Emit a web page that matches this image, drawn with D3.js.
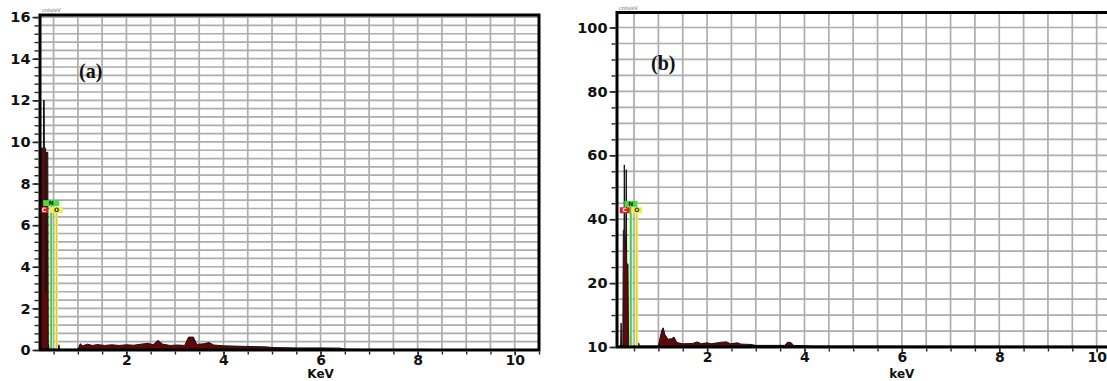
<!DOCTYPE html>
<html><head><meta charset="utf-8">
<script src="https://cdn.jsdelivr.net/npm/d3@7"></script>
<style>body{margin:0;background:#fff}svg{display:block}</style>
</head><body>
<svg id="c" width="1107" height="381"></svg>
<script>
// ---- data: panel (a) spectrum ----
const specA_keV = [0.22,0.225,0.24,0.29,0.295,0.305,0.31,0.335,0.34,0.35,0.38,0.39,0.42,0.56,0.575,0.59,0.61,0.625,1.0,1.05,1.1,1.2,1.3,1.4,1.55,1.7,1.85,2.0,2.15,2.3,2.45,2.55,2.65,2.75,2.9,3.05,3.2,3.28,3.38,3.45,3.6,3.7,3.8,4.0,4.5,4.9,5.0,5.5,6.0,6.4,6.5,7.0,8.2,8.25,10.5];
const specA_cnt = [0,2.9,9.7,9.7,12.0,12.0,9.7,9.7,2.8,9.5,9.5,0.3,0.05,0.05,0.25,0.05,0.25,0.03,0.03,0.3,0.2,0.28,0.22,0.26,0.22,0.25,0.22,0.25,0.23,0.28,0.32,0.25,0.46,0.28,0.22,0.24,0.22,0.62,0.62,0.27,0.3,0.36,0.24,0.2,0.17,0.15,0.12,0.1,0.1,0.09,0.04,0.03,0.03,0,0];
// ---- data: panel (b) spectrum ----
const specB_keV = [0.15,0.2,0.225,0.235,0.245,0.27,0.28,0.295,0.30,0.31,0.33,0.34,0.35,0.375,0.385,0.40,0.41,0.55,0.56,0.6,0.61,1.0,1.03,1.07,1.1,1.13,1.2,1.27,1.32,1.38,1.5,1.7,1.8,1.88,2.0,2.08,2.3,2.4,2.48,2.62,2.7,2.9,3.0,3.6,3.65,3.72,3.78,4.2,10.5];
const specB_cnt = [0,0.3,0.3,7.5,0.5,0.5,36.5,36.5,57,36,30,55.5,26,26,4,4,0.3,0.3,1.2,1.2,0.3,0.3,2.5,5.2,6.0,4.0,2.4,2.6,3.1,1.4,1.0,1.1,1.6,1.0,1.3,1.0,1.5,1.6,1.0,1.3,0.9,0.8,0.5,0.5,1.5,1.4,0.5,0.3,0.2];
// ---- element markers ----
const elements = ["C","N","O"];
const elemColors = ["#e02020","#44dd44","#f2ee50"];
const markerA_keV = [0.30,0.45,0.56];
const markerA_level = [6.73,7.06,6.73];
const markerB_keV = [0.31,0.435,0.555];
const markerB_level = [42.8,44.8,42.8];
// ---- tick labels ----
const yTicksA = [0,2,4,6,8,10,12,14,16];
const yTickLabelsA = ["0","2","4","6","8","10","12","14","16"];
const yTicksB = [0,20,40,60,80,100];
const yTickLabelsB = ["10","20","40","60","80","100"];
const xTicks = [2,4,6,8,10];
const xTickLabels = ["2","4","6","8","10"];

const svg = d3.select("#c");

function panel(cfg){
  const x = d3.scaleLinear().domain(cfg.xDomain).range([cfg.left, cfg.right]);
  const y = d3.scaleLinear().domain(cfg.yDomain).range([cfg.bottom, cfg.top]);
  const g = svg.append("g");
  const cid = "clip" + cfg.id;
  g.append("clipPath").attr("id", cid).append("rect")
    .attr("x", cfg.left).attr("y", cfg.top).attr("width", cfg.right-cfg.left).attr("height", cfg.bottom-cfg.top);
  const inner = g.append("g").attr("clip-path", `url(#${cid})`);
  // grid
  const xg = d3.range(1, 22).map(i => i*0.5);
  const nY = Math.floor(cfg.yDomain[1]/cfg.minorY);
  const yg = d3.range(1, nY+1).map(i => i*cfg.minorY);
  inner.selectAll(".vg").data(xg).join("line")
    .attr("x1", d=>x(d)).attr("x2", d=>x(d)).attr("y1", cfg.top).attr("y2", cfg.bottom)
    .attr("stroke", "#adadad").attr("stroke-width", 1.7);
  inner.selectAll(".hg").data(yg).join("line")
    .attr("y1", d=>y(d)).attr("y2", d=>y(d)).attr("x1", cfg.left).attr("x2", cfg.right)
    .attr("stroke", "#adadad").attr("stroke-width", 1.7);
  // spectrum
  const pts = cfg.keV.map((k,i)=>[k, cfg.cnt[i]]);
  const area = d3.area().x(d=>x(d[0])).y0(y(0)).y1(d=>y(d[1]));
  inner.append("path").datum(pts).attr("d", area)
    .attr("fill", "#5e0909").attr("stroke", "#111").attr("stroke-width", 1);
  // markers
  cfg.mk.forEach((k,i)=>{
    if (i===0) return;
    const yy = y(cfg.ml[i]) + 3;
    if (i===1){
      inner.append("line").attr("x1",x(k)).attr("x2",x(k)).attr("y1",yy).attr("y2",y(0))
        .attr("stroke","#b8f0b8").attr("stroke-width",3.5);
      inner.append("line").attr("x1",x(k)).attr("x2",x(k)).attr("y1",yy).attr("y2",y(0))
        .attr("stroke","#2cb82c").attr("stroke-width",1.3);
    } else {
      inner.append("line").attr("x1",x(k)).attr("x2",x(k)).attr("y1",yy).attr("y2",y(0))
        .attr("stroke","#f5f080").attr("stroke-width",3);
      inner.append("line").attr("x1",x(k)).attr("x2",x(k)).attr("y1",yy).attr("y2",y(0))
        .attr("stroke","#d8d020").attr("stroke-width",1.2);
    }
  });
  const bw = cfg.boxW;
  cfg.mk.forEach((k,i)=>{
    const cx = x(k), cy = y(cfg.ml[i]);
    const w = bw[i];
    g.append("rect").attr("x", cx-w/2).attr("y", cy-3).attr("width", w).attr("height", 6)
      .attr("fill", elemColors[i]);
    g.append("text").attr("x", cx).attr("y", cy+2.2).attr("text-anchor","middle")
      .attr("font-family","DejaVu Sans").attr("font-weight","bold").attr("font-size",6)
      .attr("fill", i===0 ? "#fff" : "#222").text(elements[i]);
  });
  // frame
  g.append("rect").attr("x", cfg.left).attr("y", cfg.top)
    .attr("width", cfg.right-cfg.left).attr("height", cfg.bottom-cfg.top)
    .attr("fill","none").attr("stroke","#000").attr("stroke-width",3);
  // y axis
  const yMinor = d3.range(0, nY+1).map(i=>i*cfg.minorY);
  g.append("g").attr("transform",`translate(${cfg.left-1.5},0)`)
    .call(d3.axisLeft(y).tickValues(yMinor).tickSize(4).tickFormat(""))
    .call(a=>a.select(".domain").remove())
    .call(a=>a.selectAll("line").attr("stroke","#222").attr("stroke-width",1.4));
  g.append("g").attr("transform",`translate(${cfg.left-1.5},0)`)
    .call(d3.axisLeft(y).tickValues(cfg.yT).tickSize(6).tickPadding(2).tickFormat((d,i)=>cfg.yL[i]))
    .call(a=>a.select(".domain").remove())
    .call(a=>a.selectAll("line").attr("stroke","#222").attr("stroke-width",1.6))
    .call(a=>a.selectAll("text").attr("font-family","DejaVu Sans").attr("font-weight","bold")
      .attr("font-size",14.5).attr("fill","#111"));
  // x axis
  g.append("g").attr("transform",`translate(0,${cfg.bottom+1.5})`)
    .call(d3.axisBottom(x).tickValues(xg.filter(d=>d<=cfg.xDomain[1])).tickSize(3).tickFormat(""))
    .call(a=>a.select(".domain").remove())
    .call(a=>a.selectAll("line").attr("stroke","#222").attr("stroke-width",1.4));
  g.append("g").attr("transform",`translate(0,${cfg.bottom+1.5})`)
    .call(d3.axisBottom(x).tickValues(xTicks).tickSize(4).tickPadding(0).tickFormat((d,i)=>xTickLabels[i]))
    .call(a=>a.select(".domain").remove())
    .call(a=>a.selectAll("line").attr("stroke","#222").attr("stroke-width",1.4))
    .call(a=>a.selectAll("text").attr("font-family","DejaVu Sans").attr("font-weight","bold")
      .attr("font-size",14).attr("fill","#111"));
  // axis title
  g.append("text").attr("x", x(6)).attr("y", 378).attr("text-anchor","middle")
    .attr("font-family","DejaVu Sans").attr("font-weight","bold").attr("font-size",12)
    .attr("fill","#111").text(cfg.xTitle);
  // units
  g.append("text").attr("x", cfg.left+2).attr("y", cfg.top-3)
    .attr("font-family","DejaVu Sans").attr("font-size",5).attr("fill","#556").text("cnts/eV");
  // panel label
  g.append("text").attr("x", cfg.labX).attr("y", cfg.labY)
    .attr("font-family","Liberation Serif").attr("font-weight","bold").attr("font-size",20)
    .attr("fill","#111").text(cfg.label);
}

panel({id:"a", xDomain:[0.22,10.5], yDomain:[0,16.1], left:40, right:539, top:15, bottom:350,
  keV:specA_keV, cnt:specA_cnt, mk:markerA_keV, ml:markerA_level, boxW:[8,16,13],
  minorY:0.4, yT:yTicksA, yL:yTickLabelsA, xTitle:"KeV", label:"(a)", labX:79, labY:78});
panel({id:"b", xDomain:[0.15,10.5], yDomain:[0,104.7], left:617, right:1121, top:12.5, bottom:347,
  keV:specB_keV, cnt:specB_cnt, mk:markerB_keV, ml:markerB_level, boxW:[10,13,11],
  minorY:5, yT:yTicksB, yL:yTickLabelsB, xTitle:"keV", label:"(b)", labX:651, labY:70});
</script>
</body></html>
